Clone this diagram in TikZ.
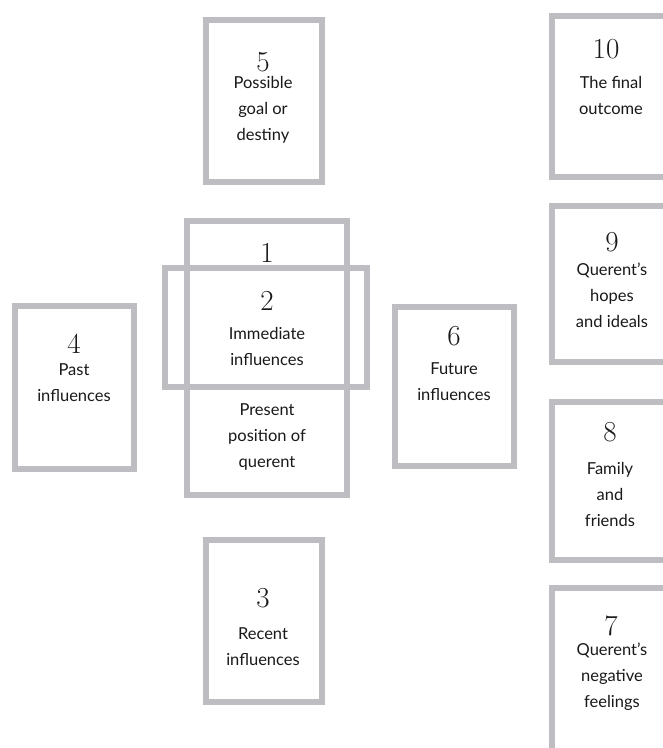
\documentclass[tikz,border=0pt]{standalone}
\usepackage{fontspec}
\setsansfont{Lato}
\definecolor{cardgray}{RGB}{189,189,194}
\definecolor{ink}{RGB}{25,25,25}
\begin{document}
\begin{tikzpicture}[x=1pt,y=-1pt,
  card/.style={draw=cardgray, line width=6pt, rectangle, inner sep=0pt},
  num/.style={font=\fontsize{29}{29}\selectfont, text=ink, inner sep=0pt},
  lab/.style={font=\sffamily\fontsize{16.5}{26}\selectfont, align=center, text=ink, inner sep=0pt}]
\useasboundingbox (0,0) rectangle (663,748);
\fill[white] (0,0) rectangle (663,748);
\clip (0,0) rectangle (663,748);
% cards
\node[card, minimum width=116pt, minimum height=162pt] (c5) at (264,101) {};
\node[card, minimum width=160pt, minimum height=274pt] (c1) at (267,358) {};
\node[card, minimum width=202pt, minimum height=119pt] (c2) at (266,327.5) {};
\node[card, minimum width=119pt, minimum height=163pt] (c4) at (74.5,387.5) {};
\node[card, minimum width=119pt, minimum height=159pt] (c6) at (454.5,386.5) {};
\node[card, minimum width=116pt, minimum height=162pt] (c3) at (264,621) {};
\node[card, minimum width=160pt, minimum height=161pt] (c10) at (632,96.5) {};
\node[card, minimum width=160pt, minimum height=156pt] (c9) at (632,284) {};
\node[card, minimum width=160pt, minimum height=158pt] (c8) at (632,481) {};
\node[card, minimum width=160pt, minimum height=169pt] (c7) at (632,672.5) {};
% numbers
\node[num] (n5) at (263,62) {5};
\node[num] (n10) at (606,49) {10};
\node[num] (n1) at (267,253) {1};
\node[num] (n2) at (267,301) {2};
\node[num] (n4) at (74,344) {4};
\node[num] (n6) at (454,336) {6};
\node[num] (n9) at (612,242) {9};
\node[num] (n8) at (610,432) {8};
\node[num] (n7) at (611,626) {7};
\node[num] (n3) at (263,598) {3};
% labels
\node[lab] (t5) at (263,110) {Possible\\goal or\\destiny};
\node[lab] (t10) at (611,95) {The final\\outcome};
\node[lab] (t2) at (267,346) {Immediate\\influences};
\node[lab] (t1) at (267,437) {Present\\position of\\querent};
\node[lab] (t4) at (74,383) {Past\\influences};
\node[lab] (t6) at (454,382) {Future\\influences};
\node[lab] (t9) at (612,295) {Querent's\\hopes\\and ideals};
\node[lab] (t8) at (610,494) {Family\\and\\friends};
\node[lab] (t7) at (612,677) {Querent's\\negative\\feelings};
\node[lab] (t3) at (263,647) {Recent\\influences};
\end{tikzpicture}
\end{document}
